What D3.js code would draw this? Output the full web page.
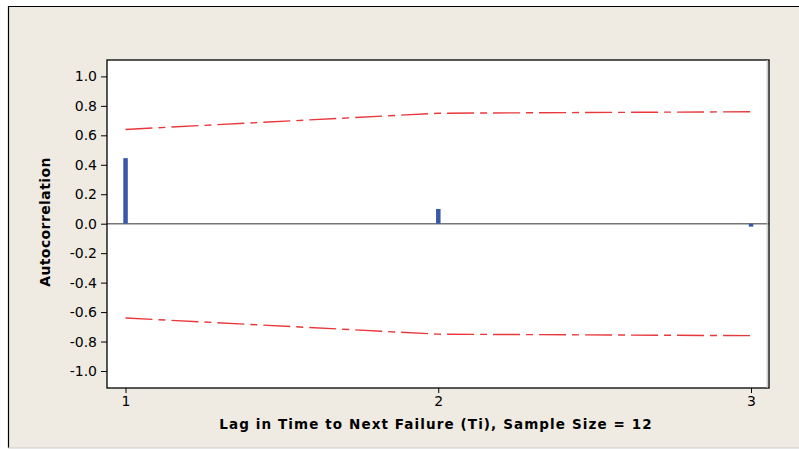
<!DOCTYPE html>
<html><head><meta charset="utf-8">
<script src="https://cdn.jsdelivr.net/npm/d3@7"></script>
<style>body{margin:0;background:#fff}svg{display:block}</style>
</head><body><svg id="c" width="799" height="449"></svg>
<script>
const lags = [1, 2, 3];
const acf = [0.445, 0.10, -0.02];
const upper = [0.64, 0.75, 0.76];
const lower = [-0.64, -0.75, -0.76];
const yTicks = [-1.0, -0.8, -0.6, -0.4, -0.2, 0.0, 0.2, 0.4, 0.6, 0.8, 1.0];
const xLabel = "Lag in Time to Next Failure (Ti), Sample Size = 12";
const yLabel = "Autocorrelation";

const svg = d3.select("#c");
svg.append("rect").attr("x",8).attr("y",6).attr("width",800).attr("height",442).attr("fill","#efebe2");
svg.append("line").attr("x1",8).attr("x2",799).attr("y1",6.5).attr("y2",6.5).attr("stroke","#000").attr("stroke-width",1.2);
svg.append("line").attr("x1",8.5).attr("x2",8.5).attr("y1",6).attr("y2",448).attr("stroke","#000").attr("stroke-width",1.2);
svg.append("line").attr("x1",8).attr("x2",799).attr("y1",448).attr("y2",448).attr("stroke","#ccc").attr("stroke-width",1);

const L=107, R=769, T=60, B=388;
const x = d3.scaleLinear().domain([1,3]).range([125.5,751]);
const y = d3.scaleLinear().domain([-1,1]).range([371,76.4]);

svg.append("rect").attr("x",L).attr("y",T).attr("width",R-L).attr("height",B-T).attr("fill","#fff");

// zero line
svg.append("line").attr("x1",L).attr("x2",R).attr("y1",y(0)).attr("y2",y(0)).attr("stroke","#777").attr("stroke-width",1.5);

// limits
const line = d3.line().x((d,i)=>x(lags[i])).y(d=>y(d));
[upper, lower].forEach(arr=>{
  svg.append("path").attr("d", line(arr)).attr("fill","none").attr("stroke","#e8383c")
    .attr("stroke-width",1.4).attr("stroke-dasharray","27,6,7,6");
});

// bars
svg.selectAll("rect.bar").data(acf).join("rect").attr("class","bar")
  .attr("x",(d,i)=>x(lags[i])-2.2).attr("width",4.5)
  .attr("y",d=>Math.min(y(d),y(0))).attr("height",d=>Math.max(2,Math.abs(y(d)-y(0))))
  .attr("fill","#3a58a8");

// frame
svg.append("rect").attr("x",L).attr("y",T).attr("width",R-L).attr("height",B-T).attr("fill","none").attr("stroke","#000").attr("stroke-width",1.3);
svg.append("line").attr("x1",R-1.8).attr("x2",R-1.8).attr("y1",T).attr("y2",B).attr("stroke","#bbb").attr("stroke-width",1);

const fmt = v => d3.format(".1f")(v).replace("\u2212","-");
const yAxis = svg.append("g").attr("transform",`translate(${L},0)`)
  .call(d3.axisLeft(y).tickValues(yTicks).tickFormat(fmt).tickSize(6).tickPadding(4));
const xAxis = svg.append("g").attr("transform",`translate(0,${B})`)
  .call(d3.axisBottom(x).tickValues(lags).tickFormat(d3.format("d")).tickSize(5).tickPadding(3));
[yAxis,xAxis].forEach(g=>{
  g.select(".domain").remove();
  g.selectAll("line").attr("stroke","#000");
  g.selectAll("text").attr("font-family","DejaVu Sans, Verdana, sans-serif").attr("font-size",14).attr("fill","#000");
});

svg.append("text").attr("x",436).attr("y",429).attr("text-anchor","middle")
  .attr("font-family","DejaVu Sans, Verdana, sans-serif").attr("font-weight","bold").attr("font-size",13.5)
  .attr("letter-spacing",1.1).text(xLabel);
svg.append("text").attr("transform","translate(50,222) rotate(-90)").attr("text-anchor","middle")
  .attr("font-family","DejaVu Sans, Verdana, sans-serif").attr("font-weight","bold").attr("font-size",14)
  .attr("letter-spacing",0.4).text(yLabel);
</script></body></html>
